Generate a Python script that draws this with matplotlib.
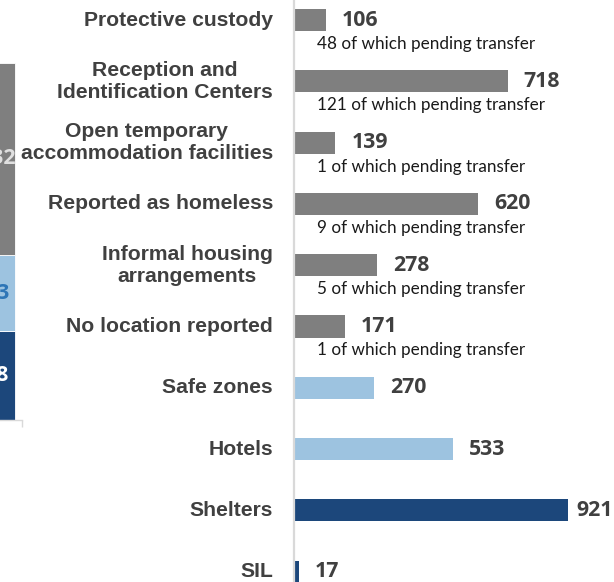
import matplotlib
matplotlib.use("Agg")
import matplotlib.pyplot as plt
from matplotlib.transforms import blended_transform_factory

categories = ["Protective custody", "Reception and\nIdentification Centers",
              "Open temporary\naccommodation facilities", "Reported as homeless",
              "Informal housing\narrangements", "No location reported",
              "Safe zones", "Hotels", "Shelters", "SIL"]
values = [106, 718, 139, 620, 278, 171, 270, 533, 921, 17]
pending = [48, 121, 1, 9, 5, 1, None, None, None, None]
groups = ["gray"] * 6 + ["light"] * 2 + ["dark"] * 2

colors = {"gray": "#7f7f7f", "light": "#9dc3e0", "dark": "#1c477b"}
stack_label_colors = {"gray": "#e0e0e0", "light": "#2e75b6", "dark": "#ffffff"}
stack_order = ["dark", "light", "gray"]
stack_totals = [sum(v for v, g in zip(values, groups) if g == k) for k in stack_order]

NUMFONT = ["Open Sans", "DejaVu Sans"]
W, H = 614, 582
fig = plt.figure(figsize=(W / 100, H / 100), dpi=100)

# ---- main horizontal bar axes ----
ax = fig.add_axes([294 / W, 0, (W - 294) / W, 1])
ax.set_xlim(0, (W - 294) / 0.2975)
ax.set_ylim((H - 20) / 61.3, -20 / 61.3)
for s in ["top", "right", "bottom"]:
    ax.spines[s].set_visible(False)
ax.spines["left"].set_color("#d9d9d9")
ax.spines["left"].set_linewidth(1.6)
ax.set_xticks([])
ax.set_yticks([])
ax.patch.set_alpha(0)

ypos = list(range(len(categories)))
ax.barh(ypos, values, height=0.36, color=[colors[g] for g in groups], zorder=2)

tr = blended_transform_factory(fig.transFigure, ax.transData)
value_texts = []
for i, (c, v, p) in enumerate(zip(categories, values, pending)):
    fig.text(273 / W, i, c, transform=tr, ha="right", va="center",
             multialignment="center", fontsize=15.2, fontweight="bold",
             color="#404040", family=["Liberation Sans", "DejaVu Sans"],
             linespacing=1.2)
    t = ax.annotate(str(v), xy=(v, i), xytext=(11.5, 0), textcoords="offset points",
                    ha="left", va="center", fontsize=15.3, fontweight="bold",
                    color="#404040", family=NUMFONT)
    value_texts.append(t)
    if p is not None:
        ax.text(77, i + 0.39, f"{p} of which pending transfer", ha="left",
                va="center", fontsize=12.3, color="#1a1a1a",
                family=["Lato", "DejaVu Sans"])

# keep value labels inside the figure (as the original does for the longest bar)
fig.canvas.draw()
r = fig.canvas.get_renderer()
for t in value_texts:
    bb = t.get_window_extent(r)
    if bb.x1 > W - 1:
        over = (bb.x1 - (W - 1)) * 72 / 100
        t.set_position((11.5 - over, 0))

# ---- partial stacked bar axes on the left ----
scale = 357.3 / sum(stack_totals)
ymax = 4000
axh = ymax * scale
ax2 = fig.add_axes([-40 / W, (H - 420) / H, 62 / W, axh / H])
ax2.set_xlim(-0.5, 0.5)
ax2.set_ylim(0, ymax)
bottom = 0
for k, t in zip(stack_order, stack_totals):
    ax2.bar([0], [t], bottom=bottom, width=0.774, color=colors[k],
            edgecolor="white", linewidth=0.6, zorder=2)
    ax2.text(0, bottom + t / 2, str(t), ha="center", va="center",
             fontsize=15.3, fontweight="bold", color=stack_label_colors[k],
             family=NUMFONT, zorder=3)
    bottom += t
for s in ["top", "right", "left"]:
    ax2.spines[s].set_visible(False)
ax2.spines["bottom"].set_color("#d9d9d9")
ax2.spines["bottom"].set_linewidth(1.0)
ax2.set_yticks([])
ax2.set_xticks([0.5])
ax2.set_xticklabels([""])
ax2.tick_params(axis="x", length=5, width=1.0, color="#d9d9d9", direction="out")
ax2.patch.set_alpha(0)

fig.savefig("out.png", dpi=100)
